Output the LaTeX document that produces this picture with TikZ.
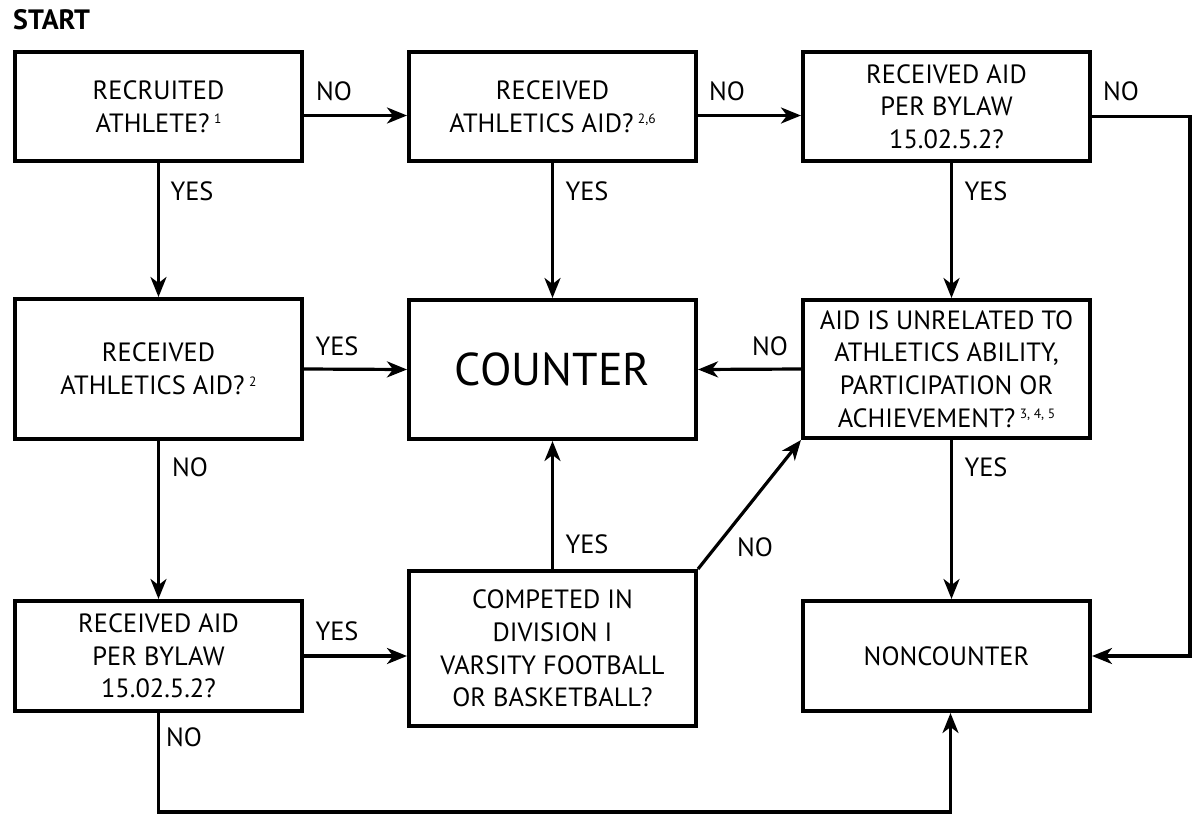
\documentclass[tikz,border=0pt]{standalone}
\usepackage{fontspec}
\setmainfont{PT Sans}
\usetikzlibrary{arrows.meta,calc}
\newcommand{\supnote}[1]{\,{\fontsize{13.5}{13.5}\selectfont\raisebox{8.5pt}{#1}}}
\begin{document}
\begin{tikzpicture}[x=1pt,y=-1pt,
  box/.style={draw,line width=4pt,minimum width=287pt,align=center,inner sep=0pt,font=\fontsize{26.4}{32.7}\selectfont},
  lbl/.style={font=\fontsize{26.4}{30}\selectfont,inner sep=0pt},
  arr/.style={line width=3.2pt,-{Stealth[length=20pt,width=16pt,inset=6pt]}}]
\useasboundingbox (0,0) rectangle (1195,815);
\node[font=\bfseries\fontsize{28}{28}\selectfont,anchor=west,inner sep=0pt] (start) at (13,19.5) {START};
\node[box,minimum height=109pt] (b1) at (158.5,106.5) {RECRUITED\\ATHLETE?\supnote{1}};
\node[box,minimum height=109pt] (b2) at (552.5,106.5) {RECEIVED\\ATHLETICS AID?\supnote{2,6}};
\node[box,minimum height=109pt] (b3) at (946.5,106.5) {RECEIVED AID\\PER BYLAW\\15.02.5.2?};
\node[box,minimum height=140pt] (b4) at (158.5,369) {RECEIVED\\ATHLETICS AID?\supnote{2}};
\node[box,minimum height=139pt,font=\fontsize{46}{50}\selectfont] (ct) at (552.5,369.5) {COUNTER};
\node[box,minimum height=138pt] (b6) at (946.5,369) {AID IS UNRELATED TO\\ATHLETICS ABILITY,\\PARTICIPATION OR\\ACHIEVEMENT?\supnote{3, 4, 5}};
\node[box,minimum height=110pt] (b7) at (158.5,656) {RECEIVED AID\\PER BYLAW\\15.02.5.2?};
\node[box,minimum height=155pt] (b8) at (552.5,648.5) {COMPETED IN\\DIVISION I\\VARSITY FOOTBALL\\OR BASKETBALL?};
\node[box,minimum height=110pt] (nc) at (946.5,656) {NONCOUNTER};
% connectors
\draw[arr] ([yshift=-9pt]b1.east) -- ([yshift=-9pt]b2.west);
\draw[arr] ([yshift=-9pt]b2.east) -- ([yshift=-9pt]b3.west);
\draw[arr] ([yshift=-10pt]b3.east) -- ++(98,0) |- (nc.east);
\draw[arr] (b1.south) -- (b4.north);
\draw[arr] (b2.south) -- (ct.north);
\draw[arr] ([xshift=5pt]b3.south) -- ([xshift=5pt]b6.north);
\draw[arr] (b4.east) -- (ct.west);
\draw[arr] (b6.west) -- (ct.east);
\draw[arr] (b4.south) -- (b7.north);
\draw[arr] (b8.north) -- (ct.south);
\draw[arr] (b8.north east) -- (b6.south west);
\draw[arr] ([xshift=5pt]b6.south) -- ([xshift=5pt]nc.north);
\draw[arr] (b7.east) -- (b7.east -| b8.west);
\draw[arr] (b7.south) -- ++(0,99) -| ([xshift=4pt]nc.south);
% labels
\node[lbl] (l1) at (334,91) {NO};
\node[lbl] (l2) at (192,191) {YES};
\node[lbl] (l3) at (727,91) {NO};
\node[lbl] (l4) at (587,191) {YES};
\node[lbl] (l5) at (1121,91) {NO};
\node[lbl] (l6) at (986,191) {YES};
\node[lbl] (l7) at (337,346) {YES};
\node[lbl] (l8) at (190,467) {NO};
\node[lbl] (l9) at (770,346) {NO};
\node[lbl] (l10) at (587,544) {YES};
\node[lbl] (l11) at (755,547) {NO};
\node[lbl] (l12) at (986,467) {YES};
\node[lbl] (l13) at (337,631) {YES};
\node[lbl] (l14) at (184,737) {NO};
\end{tikzpicture}
\end{document}
